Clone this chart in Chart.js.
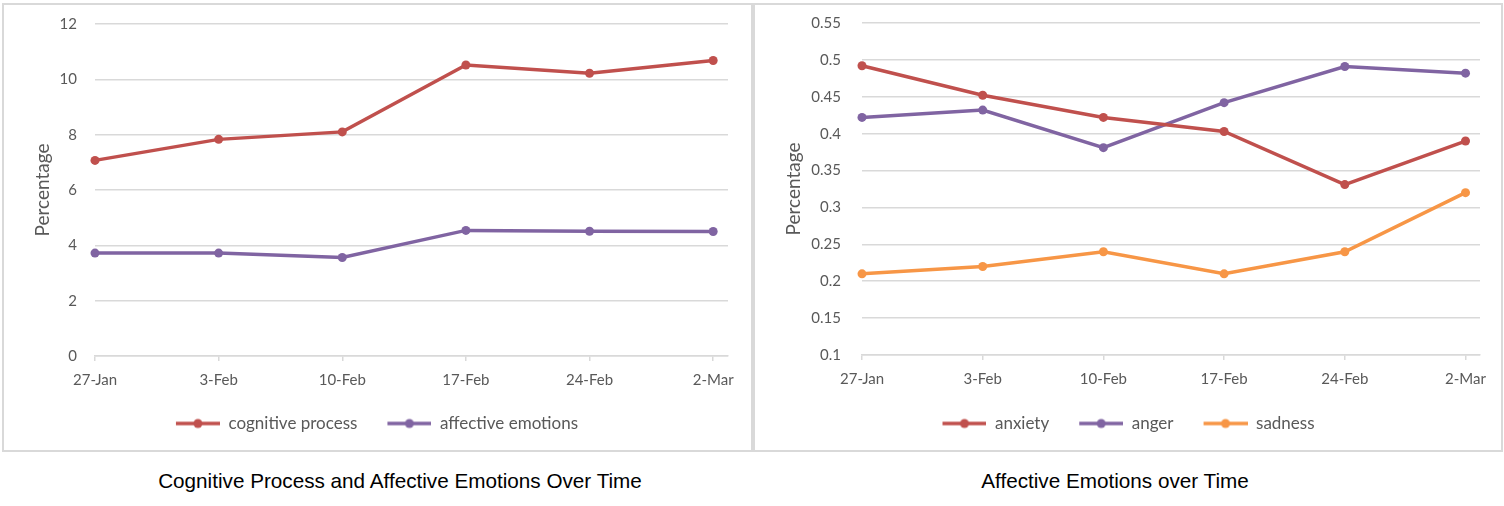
<!DOCTYPE html>
<html>
<head>
<meta charset="utf-8">
<script src="https://cdn.jsdelivr.net/npm/chart.js@4.4.1/dist/chart.umd.min.js"></script>
<style>
  body { margin: 0; background: #fff; width: 1504px; height: 506px; position: relative; overflow: hidden; }
  .box { position: absolute; top: 3px; height: 449px; border: 2px solid #d9d9d9; box-sizing: border-box; }
  .box canvas { position: absolute; left: 0; top: 0; }
  .caption { position: absolute; top: 469px; width: 700px; text-align: center; font-family: "Liberation Sans", Arial, sans-serif; font-size: 20.7px; color: #000; }
</style>
</head>
<body>
<div class="box" style="left:2px;width:751px"><canvas id="leftChart"></canvas></div>
<div class="box" style="left:753px;width:750px"><canvas id="rightChart"></canvas></div>
<div class="caption" style="left:50px">Cognitive Process and Affective Emotions Over Time</div>
<div class="caption" style="left:765px">Affective Emotions over Time</div>
<script>
const dates = ["27-Jan", "3-Feb", "10-Feb", "17-Feb", "24-Feb", "2-Mar"];

const cognitiveProcess = [7.07, 7.83, 8.1, 10.52, 10.22, 10.68];
const affectiveEmotions = [3.72, 3.72, 3.56, 4.54, 4.51, 4.5];

const anxiety = [0.492, 0.452, 0.422, 0.403, 0.331, 0.39];
const anger = [0.422, 0.432, 0.381, 0.442, 0.491, 0.482];
const sadness = [0.21, 0.22, 0.24, 0.21, 0.24, 0.32];

const RED = "#C0504D", PURPLE = "#8064A2", ORANGE = "#F79646";
const GRID = "#d9d9d9", TEXT = "#595959";
const FONT = "Lato, 'Open Sans', sans-serif";

// legend symbol: short line with a dot, drawn on the right of the legend box
function legendSymbol(color) {
  const c = document.createElement("canvas");
  c.width = 66; c.height = 12;
  const g = c.getContext("2d");
  g.strokeStyle = color; g.lineWidth = 3.5;
  g.beginPath(); g.moveTo(22, 6); g.lineTo(66, 6); g.stroke();
  g.fillStyle = color;
  g.beginPath(); g.arc(44, 6, 4.5, 0, Math.PI * 2); g.fill();
  return c;
}

function series(label, values, color) {
  return {
    label: label,
    data: values.map((v, i) => ({ x: i, y: v })),
    borderColor: color,
    backgroundColor: color,
    borderWidth: 3.5,
    pointRadius: 4.5,
    pointBorderWidth: 0,
    pointBackgroundColor: color,
    tension: 0,
    clip: false,
    symbol: legendSymbol(color)
  };
}

function makeChart(id, w, h, datasets, yMin, yMax, yStep, yWidth, tickPad, xHeight, pad) {
  const cv = document.getElementById(id);
  cv.width = w; cv.height = h;
  return new Chart(cv, {
    type: "line",
    data: { datasets: datasets },
    options: {
      responsive: false,
      animation: false,
      layout: { padding: pad },
      plugins: {
        tooltip: { enabled: false },
        legend: {
          position: "bottom",
          labels: {
            usePointStyle: true,
            pointStyleWidth: 66,
            padding: 8,
            color: TEXT,
            font: { family: FONT, size: 17 },
            generateLabels(chart) {
              return Chart.defaults.plugins.legend.labels.generateLabels(chart).map((it, i) => {
                it.pointStyle = chart.data.datasets[i].symbol;
                return it;
              });
            }
          }
        }
      },
      scales: {
        x: {
          type: "linear",
          min: 0,
          max: 5.12,
          afterBuildTicks(scale) { scale.ticks = dates.map((d, i) => ({ value: i })); },
          afterFit(scale) { scale.height = xHeight; },
          ticks: {
            color: TEXT,
            font: { family: FONT, size: 15 },
            padding: 10,
            maxRotation: 0,
            callback: (v) => dates[v]
          },
          grid: { drawOnChartArea: false, drawTicks: true, tickLength: 5, color: GRID, lineWidth: 1.5 },
          border: { color: GRID, width: 1.5 }
        },
        y: {
          min: yMin,
          max: yMax,
          afterFit(scale) {
            scale.width = yWidth;
            scale.paddingTop = 0;
            scale.paddingBottom = 0;
          },
          ticks: {
            stepSize: yStep,
            color: TEXT,
            font: { family: FONT, size: 15 },
            padding: tickPad,
            callback: (v) => +v.toFixed(2)
          },
          grid: { color: GRID, lineWidth: 1.5, drawTicks: false },
          border: { display: false },
          title: {
            display: true,
            text: "Percentage",
            color: TEXT,
            font: { family: FONT, size: 19 },
            padding: { top: 27, bottom: 0 }
          }
        }
      }
    }
  });
}

makeChart("leftChart", 747, 445, [
  series("cognitive process", cognitiveProcess, RED),
  series("affective emotions", affectiveEmotions, PURPLE)
], 0, 12, 2, 91, 18, 51, { top: 19, left: 0, right: 23, bottom: 8 });

makeChart("rightChart", 746, 445, [
  series("anxiety", anxiety, RED),
  series("anger", anger, PURPLE),
  series("sadness", sadness, ORANGE)
], 0.1, 0.55, 0.05, 107, 21, 52, { top: 18, left: 0, right: 21, bottom: 8 });
</script>
</body>
</html>
